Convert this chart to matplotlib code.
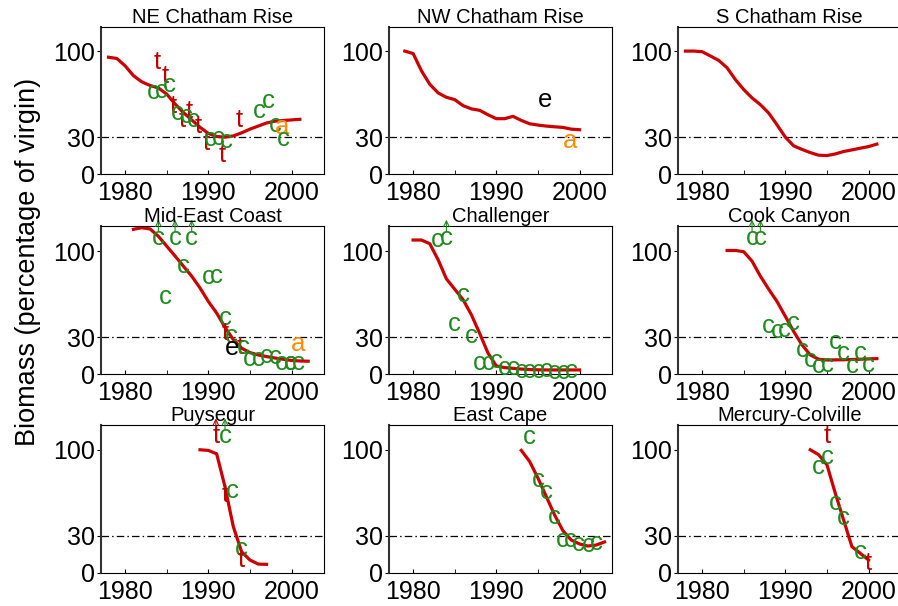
import numpy as np
import matplotlib
matplotlib.use("Agg")
import matplotlib.pyplot as plt

plt.rcParams['font.family'] = ['Liberation Sans', 'DejaVu Sans']

RED = '#CC0000'
COLORS = {'c': '#1E8B1E', 't': '#C00000', 'a': '#FF8C00', 'e': 'black'}

# ---- NE Chatham Rise
ne_start = 1978
ne_vals = [95, 94, 88, 80, 75, 72, 70, 65, 57, 50, 44, 38, 33, 30.5, 30, 31,
           33.5, 36.5, 39, 41.5, 43, 43.5, 44, 44.5]
ne_letters = ['t', 't', 'c', 'c', 'c', 't', 'c', 't', 't', 'c', 'c', 't', 't',
              'c', 'c', 't', 'c', 't', 'c', 'c', 'c', 'a', 'c']
ne_years = [1983.8, 1984.8, 1983.4, 1984.3, 1985.3, 1985.8, 1986.3, 1986.9,
            1987.7, 1987.3, 1988.2, 1988.8, 1989.7, 1990.2, 1991.2, 1991.7,
            1992.2, 1993.7, 1996.1, 1997.2, 1998.0, 1998.9, 1999.0]
ne_marks = [91, 80, 66.5, 67.4, 72, 55.6, 49.6, 44, 51, 47.5, 43.6, 38.7, 25,
            28.4, 29.2, 15.5, 26.5, 44, 51, 59, 40, 38, 28.4]

# ---- NW Chatham Rise
nw_start = 1979
nw_vals = [100, 98, 84, 73, 66, 62.4, 60.5, 55.6, 53, 51.8, 48.2, 45, 45, 46.9,
           43.6, 40.9, 39.8, 39, 38.4, 37.9, 36.5, 36]
nw_letters = ['e', 'a']
nw_years = [1995.9, 1998.9]
nw_marks = [60.5, 27.2]

# ---- S Chatham Rise
sc_start = 1978
sc_vals = [100, 100, 99.5, 96, 92.4, 86.4, 76.8, 68.7, 61.9, 56.4, 49.6, 40,
           30, 22.9, 20, 17.4, 15.3, 15, 16.3, 18.3, 19.6, 21, 22.3, 24.3]

# ---- Mid-East Coast
me_start = 1981
me_vals = [117.7, 119, 118, 112, 104, 96, 87.7, 79.6, 70, 59, 49.6, 38, 28,
           21, 17.4, 15.5, 14.2, 13, 12, 11, 10.6, 10.4]
me_letters = ['c', 'c', 'c', 'c', 'c', 't', 'c', 'e', 't', 'c', 'c', 'c', 'c',
              'c', 'c', 'c', 'c', 'c', 'a']
me_years = [1987.0, 1984.8, 1990.0, 1990.9, 1992.0, 1992.0, 1992.8, 1992.8,
            1993.8, 1994.2, 1994.9, 1996.0, 1997.0, 1998.0, 1998.8, 1999.8,
            2000.8, 1999.9, 2000.8]
me_marks = [87.7, 62.7, 79, 79.6, 45.5, 33, 31, 21, 22.3, 22.3, 12, 12, 14.7,
            14.2, 9.3, 8.7, 8.7, 8.7, 24.5]
me_off_letters = ['c', 'c', 'c']
me_off_years = [1984, 1986, 1988]

# ---- Challenger
ch_start = 1980
ch_vals = [109, 109, 106, 93, 77.4, 69, 60.5, 48.2, 33, 17, 6.5, 5.2, 4.6, 4,
           3.6, 3.4, 3.3, 3.3, 3.3, 3.3, 3.3]
ch_letters = ['c', 'c', 'c', 'c', 'c', 'c', 'c', 'c', 'c', 'c', 'c', 'c',
              'c', 'c', 'c', 'c']
ch_years = [1982.9, 1986, 1985, 1987, 1988, 1989, 1990, 1991, 1992, 1993,
            1994, 1995, 1996, 1997, 1998, 1999]
ch_marks = [109, 64.6, 40.9, 31, 9.3, 8.7, 10.6, 4.6, 4.6, 2.7, 2.7, 2.7,
            3.3, 1.9, 1.9, 2.7]
ch_off_letters = ['c']
ch_off_years = [1984]

# ---- Cook Canyon
cc_start = 1983
cc_vals = [100.5, 100.5, 99.5, 91.8, 79.6, 69, 59, 46.9, 34.6, 23.7, 15.5, 12,
           11.4, 11.5, 11.6, 11.8, 12, 12.3, 12.5]
cc_letters = ['c'] * 13
cc_years = [1988, 1989, 1989.9, 1991, 1992, 1993, 1994, 1995, 1996, 1997,
            1998, 1999, 2000]
cc_marks = [39.2, 34.6, 36, 41.4, 19.6, 11.4, 6.8, 7.4, 26.4, 16.9, 6.8, 16.9,
            7.4]
cc_off_letters = ['c', 'c']
cc_off_years = [1986, 1987]

# ---- Puysegur
pu_start = 1989
pu_vals = [100, 99.5, 96.7, 70, 37.5, 17, 10.3, 7, 6.8]
pu_letters = ['t', 'c', 'c', 't']
pu_years = [1992, 1992.9, 1994, 1994]
pu_marks = [63, 66.8, 19, 10.3]
pu_off_letters = ['t', 'c']
pu_off_years = [1990.9, 1992]

# ---- East Cape
ec_start = 1993
ec_vals = [99.5, 90.5, 77, 62, 47, 34.2, 26.6, 23.4, 21.7, 22.5, 25]
ec_letters = ['c'] * 9
ec_years = [1994, 1995, 1996, 1997, 1997.9, 1998.9, 1999.9, 2001, 2002]
ec_marks = [110, 75.5, 66, 45.6, 27, 27, 23.4, 22.5, 24.5]

# ---- Mercury-Colville
mc_start = 1993
mc_vals = [100, 96, 87.8, 64.7, 43, 21.2, 15.8, 10.3]
mc_letters = ['t', 'c', 'c', 'c', 'c', 'c', 't']
mc_years = [1995, 1994, 1995, 1996, 1997, 1999, 2000]
mc_marks = [111, 86.4, 94, 56.5, 44.3, 17, 7.6]

panels = [
    ('NE Chatham Rise', ne_start, ne_vals, ne_letters, ne_years, ne_marks, [], []),
    ('NW Chatham Rise', nw_start, nw_vals, nw_letters, nw_years, nw_marks, [], []),
    ('S Chatham Rise', sc_start, sc_vals, [], [], [], [], []),
    ('Mid-East Coast', me_start, me_vals, me_letters, me_years, me_marks,
     me_off_letters, me_off_years),
    ('Challenger', ch_start, ch_vals, ch_letters, ch_years, ch_marks,
     ch_off_letters, ch_off_years),
    ('Cook Canyon', cc_start, cc_vals, cc_letters, cc_years, cc_marks,
     cc_off_letters, cc_off_years),
    ('Puysegur', pu_start, pu_vals, pu_letters, pu_years, pu_marks,
     pu_off_letters, pu_off_years),
    ('East Cape', ec_start, ec_vals, ec_letters, ec_years, ec_marks, [], []),
    ('Mercury-Colville', mc_start, mc_vals, mc_letters, mc_years, mc_marks, [], []),
]

W, H = 898, 606
fig = plt.figure(figsize=(W / 100, H / 100), dpi=100)

col_left = [101, 389, 678]
row_bottom = [174, 374, 572.7]
pw, ph = 223, 147.5

for i, (title, start, vals, letters, years, marks, off_l, off_y) in enumerate(panels):
    r, c = divmod(i, 3)
    ax = fig.add_axes([col_left[c] / W, 1 - row_bottom[r] / H, pw / W, ph / H])
    yrs = np.arange(start, start + len(vals))
    ax.plot(yrs, vals, color=RED, lw=2.3, zorder=3)
    ax.axhline(30, color='black', lw=0.9, dashes=(6, 2.5, 1.2, 2.5), zorder=1)
    for L, x, y in zip(letters, years, marks):
        ax.text(x, y, L, color=COLORS[L], fontsize=18.5, ha='center',
                va='center', zorder=4, clip_on=False)
    for L, x in zip(off_l, off_y):
        ax.text(x, 111, L, color=COLORS[L], fontsize=18.5, ha='center',
                va='center', zorder=4, clip_on=False)
        ax.annotate('', xy=(x, 125.5), xytext=(x, 116),
                    arrowprops=dict(arrowstyle='->', color=COLORS[L], lw=0.8,
                                    shrinkA=0, shrinkB=0),
                    annotation_clip=False)
    ax.set_xlim(1977.1, 2003.9)
    ax.set_ylim(0, 120)
    ax.set_xticks([1980, 1990, 2000])
    ax.set_xticks([1985, 1995], minor=True)
    ax.set_yticks([0, 30, 100])
    ax.tick_params(axis='x', which='both', direction='in', length=3,
                   labelsize=18, pad=5)
    ax.tick_params(axis='y', direction='out', length=3, labelsize=18, pad=1)
    for s in ['top', 'right', 'bottom']:
        ax.spines[s].set_linewidth(0.8)
    ax.spines['left'].set_linewidth(1.5)
    ax.spines['left'].set_color('#333333')
    ax.set_title(title, fontsize=14.5, pad=2)

fig.text(28 / W, 1 - 262 / H, 'Biomass (percentage of virgin)', rotation=90,
         fontsize=19.5, ha='center', va='center')

fig.savefig('out.png', dpi=100)
